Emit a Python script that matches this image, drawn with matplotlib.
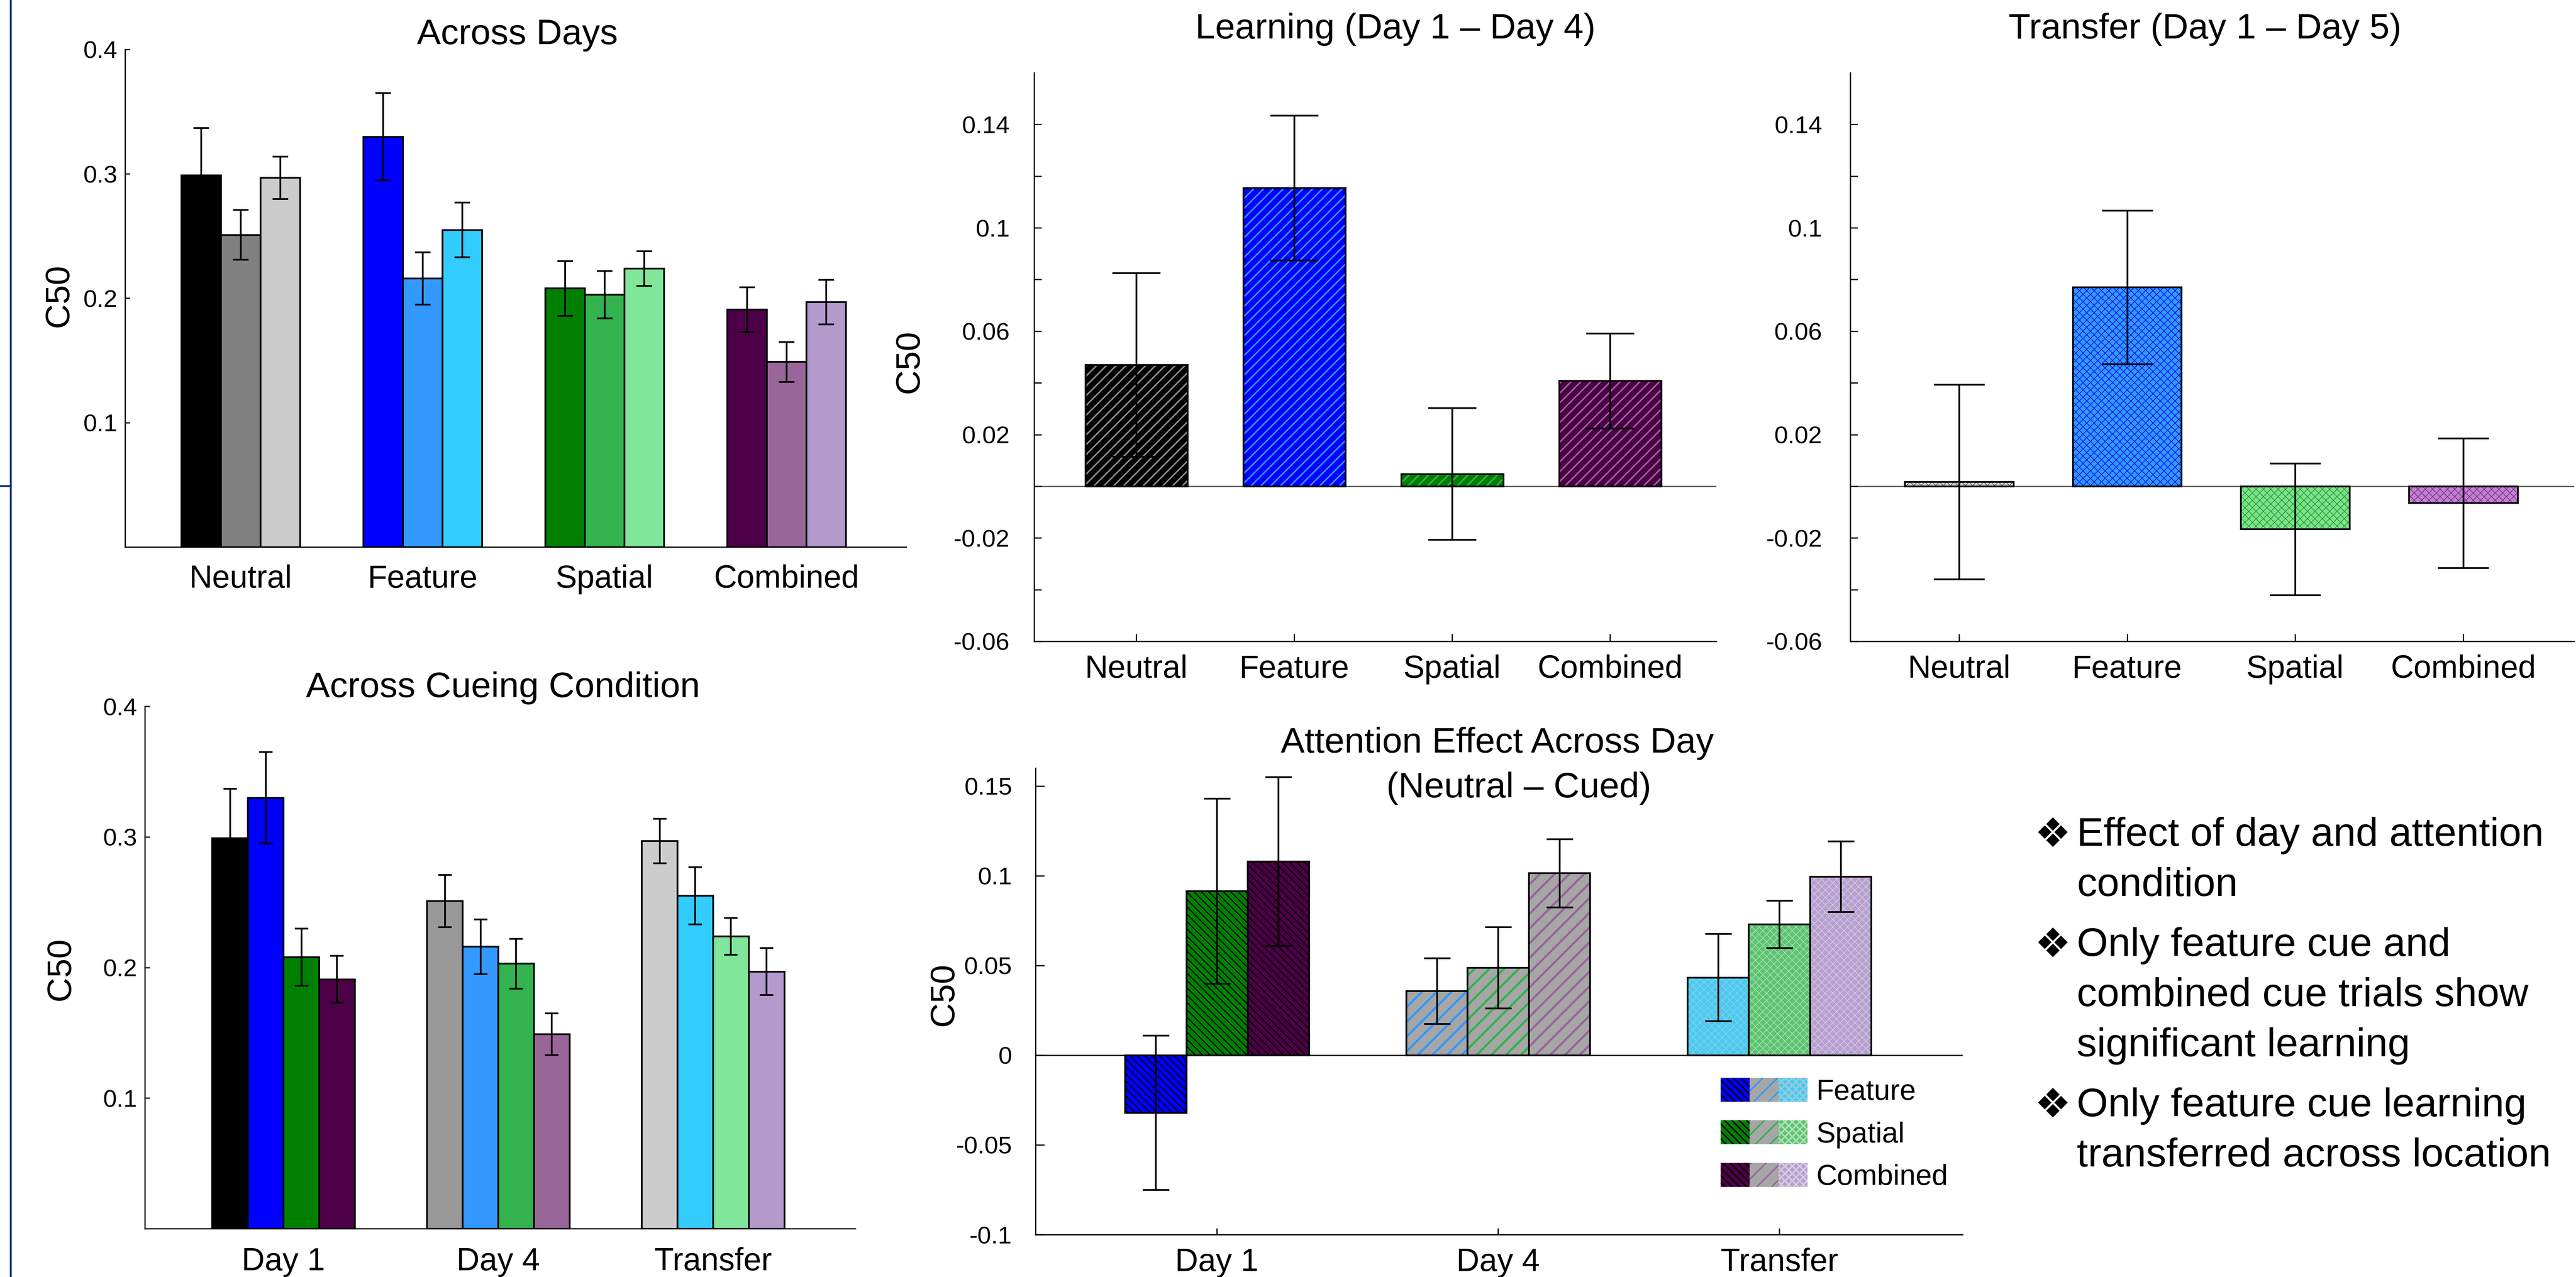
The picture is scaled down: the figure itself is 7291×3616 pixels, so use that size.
import matplotlib
matplotlib.use("Agg")
import matplotlib.pyplot as plt
import numpy as np
from matplotlib.patches import Patch
from matplotlib.legend_handler import HandlerTuple
from matplotlib.lines import Line2D

plt.rcParams['font.family'] = ['Liberation Sans', 'DejaVu Sans']
plt.rcParams['hatch.linewidth'] = 0.6

# ---------------- data ----------------
cue_conditions = ['Neutral', 'Feature', 'Spatial', 'Combined']
days = ['Day 1', 'Day 4', 'Transfer']

# C50 per cue condition, columns: Day 1, Day 4, Transfer
neutral_c50 = [0.299, 0.251, 0.297]
feature_c50 = [0.330, 0.216, 0.255]
spatial_c50 = [0.208, 0.203, 0.224]
combined_c50 = [0.191, 0.149, 0.197]
neutral_err = [0.038, 0.020, 0.017]
feature_err = [0.035, 0.021, 0.022]
spatial_err = [0.022, 0.019, 0.014]
combined_err = [0.018, 0.016, 0.018]

# Learning (Day 1 - Day 4) per cue condition
learning_c50 = [0.047, 0.1155, 0.0048, 0.0408]
learning_err = [0.0355, 0.028, 0.0255, 0.0184]

# Transfer (Day 1 - Day 5) per cue condition
transfer_c50 = [0.0017, 0.077, -0.0166, -0.0065]
transfer_err = [0.0376, 0.0297, 0.0255, 0.0251]

# Attention effect (Neutral - Cued), columns: Day 1, Day 4, Transfer
att_feature = [-0.032, 0.0358, 0.0433]
att_spatial = [0.0915, 0.0488, 0.073]
att_combined = [0.108, 0.1015, 0.0995]
att_feature_err = [0.043, 0.0183, 0.0243]
att_spatial_err = [0.0515, 0.0226, 0.0132]
att_combined_err = [0.047, 0.019, 0.0197]
att_labels = ['Feature', 'Spatial', 'Combined']

bullet_items = [
    ["Effect of day and attention", "condition"],
    ["Only feature cue and", "combined cue trials show", "significant learning"],
    ["Only feature cue learning", "transferred across location"],
]

# ---------------- styles ----------------
col_days_p1 = {
    'Neutral': ['#000000', '#808080', '#cccccc'],
    'Feature': ['#0000ff', '#3399ff', '#33ccff'],
    'Spatial': ['#008000', '#33b34d', '#80e699'],
    'Combined': ['#4d0047', '#996699', '#b399cc'],
}
col_days_p2 = dict(col_days_p1)
col_days_p2['Neutral'] = ['#000000', '#999999', '#cccccc']

W, H = 7291, 3616
DPI = 500
fig = plt.figure(figsize=(W / DPI, H / DPI), dpi=DPI)


def add_ax(L, R, T, B):
    return fig.add_axes([L / W, 1 - B / H, (R - L) / W, (B - T) / H])


def style_axes(ax, xlim, ylim, yticks, yticklabels, xticks, xticklabels,
               ytick_len, ypad, xtick_len, xpad):
    for s in ['top', 'right']:
        ax.spines[s].set_visible(False)
    for s in ['left', 'bottom']:
        ax.spines[s].set_linewidth(0.5)
    ax.set_xlim(*xlim)
    ax.set_ylim(*ylim)
    ax.set_yticks(yticks)
    ax.set_yticklabels(yticklabels, fontsize=10)
    ax.set_xticks(xticks)
    ax.set_xticklabels(xticklabels, fontsize=13)
    ax.tick_params(axis='y', direction='in', length=ytick_len, width=0.5, pad=ypad)
    ax.tick_params(axis='x', direction='in', length=xtick_len, width=0.5, pad=xpad)
    ax.set_facecolor('none')


ekw = dict(elinewidth=0.7, capthick=0.7, ecolor='black')


def set_hlw(bars, lw):
    for b in bars:
        try:
            b.set_hatch_linewidth(lw)
        except AttributeError:
            pass


def hatched_bar(ax, x, h, w, face, hcolor, hatch, err, capsize, hlw=0.6):
    b = ax.bar(x, h, w, color=face, edgecolor=hcolor, hatch=hatch, linewidth=0, zorder=2)
    set_hlw(b, hlw)
    ax.bar(x, h, w, fill=False, edgecolor='black', linewidth=0.7, zorder=3,
           yerr=err, capsize=capsize, error_kw=ekw)


# ---------------- Panel 1: Across Days ----------------
ax1 = add_ax(354, 2565, 140, 1549)
means1 = [neutral_c50, feature_c50, spatial_c50, combined_c50]
errs1 = [neutral_err, feature_err, spatial_err, combined_err]
x = np.arange(1, 5)
w1 = 0.217
for j in range(3):
    ax1.bar(x + (j - 1) * w1, [m[j] for m in means1], w1,
            color=[col_days_p1[c][j] for c in cue_conditions],
            edgecolor='black', linewidth=0.7,
            yerr=[e[j] for e in errs1], capsize=3.2, error_kw=ekw)
style_axes(ax1, (0.365, 4.658), (0, 0.4), [0.1, 0.2, 0.3, 0.4],
           ['0.1', '0.2', '0.3', '0.4'], x, cue_conditions, 2, 3.2, 0, 7.0)

# ---------------- Panel 2: Across Cueing Condition ----------------
ax2 = add_ax(410, 2421, 2000, 3479)
x3 = np.arange(1, 4)
w2 = 0.166
for i, c in enumerate(cue_conditions):
    ax2.bar(x3 + (i - 1.5) * w2, means1[i], w2,
            color=col_days_p2[c], edgecolor='black', linewidth=0.7,
            yerr=errs1[i], capsize=2.8, error_kw=ekw)
style_axes(ax2, (0.355, 3.663), (0, 0.4), [0.1, 0.2, 0.3, 0.4],
           ['0.1', '0.2', '0.3', '0.4'], x3, days, 2, 3.2, 0, 7.5)

# ---------------- Panel 3: Learning ----------------
ax3 = add_ax(2927, 4858, 206, 1816)
learn_face = ['#000000', '#0000ff', '#008000', '#4d0047']
learn_hatch = ['#8c8c8c', '#3399ff', '#33b34d', '#996699']
for i in range(4):
    hatched_bar(ax3, x[i], learning_c50[i], 0.646, learn_face[i], learn_hatch[i],
                '//////', learning_err[i], 9.8, hlw=0.6)
ax3.axhline(0, color='#555555', lw=0.5, zorder=1)
yt = np.round(np.arange(-0.06, 0.1401, 0.02), 2)
ylab = ['-0.06', '', '-0.02', '', '0.02', '', '0.06', '', '0.1', '', '0.14']
style_axes(ax3, (0.353, 4.673), (-0.06, 0.16), yt, ylab, x, cue_conditions,
           3, 10, 3, 5.3)

# ---------------- Panel 4: Transfer ----------------
ax4 = add_ax(5237, 7286, 206, 1816)
tr_face = ['#d0d0d0', '#3399ff', '#7fe08c', '#c080d0']
tr_hatch = ['#555555', '#0000ff', '#1a9a2a', '#7a2a80']
for i in range(4):
    hatched_bar(ax4, x[i], transfer_c50[i], 0.647, tr_face[i], tr_hatch[i],
                'xxxxxxxx', transfer_err[i], 10.4, hlw=0.25)
ax4.axhline(0, color='#555555', lw=0.5, zorder=1)
style_axes(ax4, (0.353, 4.66), (-0.06, 0.16), yt, ylab, x, cue_conditions,
           3, 11.5, 3, 5.3)

# ---------------- Panel 5: Attention effect ----------------
ax5 = add_ax(2931, 5555, 2175, 3496)
att_means = [att_feature, att_spatial, att_combined]
att_errs = [att_feature_err, att_spatial_err, att_combined_err]
dark = ['#0000ff', '#008000', '#4d0047']
mid = ['#3399ff', '#33b34d', '#996699']
light = ['#44ccf5', '#5cc470', '#b7a0cf']
light_h = ['#9fc9d9', '#b0e0b8', '#d8cce4']
day_styles = [
    lambda k: (dark[k], '#000000', '\\\\\\\\\\\\\\\\', 0.45),
    lambda k: ('#a6a6a6', mid[k], '////', 0.9),
    lambda k: (light[k], light_h[k], 'xxxxxxxx', 0.25),
]
w5 = 0.218
for k in range(3):
    for d in range(3):
        face, hc, ht, hlw = day_styles[d](k)
        hatched_bar(ax5, x3[d] + (k - 1) * w5, att_means[k][d], w5, face, hc, ht,
                    att_errs[k][d], 5.4, hlw=hlw)
ax5.axhline(0, color='black', lw=0.5, zorder=1)
style_axes(ax5, (0.355, 3.652), (-0.1, 0.16), [-0.1, -0.05, 0, 0.05, 0.1, 0.15],
           ['-0.1', '-0.05', '0', '0.05', '0.1', '0.15'], x3, days, 3.6, 9.6, 2.6, 5.3)

handles = []
for k in range(3):
    parts = []
    for d in range(3):
        face, hc, ht, hlw = day_styles[d](k)
        p = Patch(facecolor=face, edgecolor=hc, hatch=ht, linewidth=0)
        try:
            p.set_hatch_linewidth(hlw)
        except AttributeError:
            pass
        parts.append(p)
    handles.append(tuple(parts))
ax5.legend(handles, att_labels, handler_map={tuple: HandlerTuple(ndivide=None, pad=0.0)},
           loc='upper left', bbox_to_anchor=(4870 / W, 1 - 3052 / H),
           bbox_transform=fig.transFigure, frameon=False, fontsize=11.8,
           handlelength=3.0, handleheight=0.9, handletextpad=0.3,
           labelspacing=0.5, borderpad=0, borderaxespad=0)

# ---------------- titles and y labels ----------------
titles = [
    ("Across Days", 1464, 125),
    ("Across Cueing Condition", 1424, 1974),
    ("Learning (Day 1 \u2013 Day 4)", 3949, 109),
    ("Transfer (Day 1 \u2013 Day 5)", 6241, 109),
    ("Attention Effect Across Day", 4238, 2131),
    ("(Neutral \u2013 Cued)", 4299, 2258),
]
for t, tx, ty in titles:
    fig.text(tx / W, 1 - ty / H, t, ha='center', va='baseline', fontsize=14.6)

for tx, ty in [(167, 837), (172, 2744), (2574, 1024), (2672, 2816)]:
    fig.text(tx / W, 1 - ty / H, 'C50', rotation=90, ha='center', va='center', fontsize=14)

# ---------------- bullet text ----------------
base = 2395
for item in bullet_items:
    fig.text(5758 / W, 1 - (base + 4) / H, '\u2756', ha='left', va='baseline', fontsize=16.5,
             family=['DejaVu Sans'])
    for ln in item:
        fig.text(5878 / W, 1 - base / H, ln, ha='left', va='baseline', fontsize=16.4)
        base += 142
    base += 28

# ---------------- decorative frame line at left ----------------
fig.add_artist(Line2D([29.5 / W, 29.5 / W], [0, 1], color='#032d6b', lw=0.75,
                      transform=fig.transFigure))
fig.add_artist(Line2D([0, 29.5 / W], [1 - 1376 / H, 1 - 1376 / H], color='#032d6b', lw=0.75,
                      transform=fig.transFigure))

fig.savefig('out.png', dpi=DPI, facecolor='white')
